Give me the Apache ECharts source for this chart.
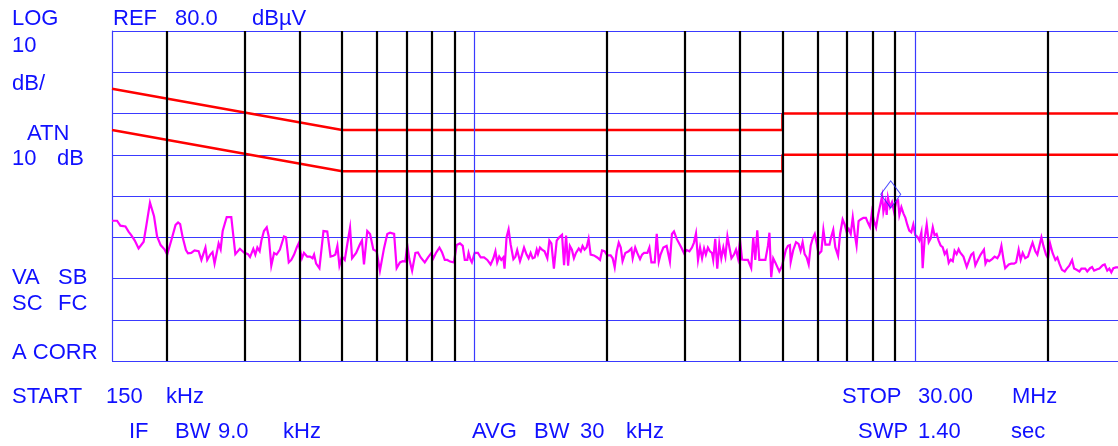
<!DOCTYPE html>
<html><head><meta charset="utf-8">
<script src="https://cdn.jsdelivr.net/npm/echarts@6/dist/echarts.min.js"></script>
<style>html,body{margin:0;padding:0;background:#fff;overflow:hidden}#c{width:1118px;height:446px}</style>
</head><body><div id="c"></div><script>
// ---- instrument settings ----
const START_MHZ = 0.15;
const STOP_MHZ = 30;
const SWEEP_LAST = 400; // sweep points 0..400, log spaced
const REF_LEVEL = 80;
const DB_PER_DIV = 10;

// ---- frequency graticule (MHz) ----
const decadeLinesMHz = [1, 10];
const markerLinesMHz = [0.2, 0.3, 0.4, 0.5, 0.6, 0.7, 0.8, 0.9, 2, 3, 4, 5, 6, 7, 8, 9, 20];

// ---- limit lines (dBµV) ----
const limitFreqMHz = [0.15, 0.5, 5, 5, 30];
const limitQuasiPeak = [66, 56, 56, 60, 60];
const limitAverage = [56, 46, 46, 50, 50];

// ---- marker ----
const markerFreqMHz = 8.81;
const markerLevel = 40.4;

// ---- measured trace: sweep point index and level (dBµV) ----
const sweepIdx = [0,2.0,3.3,5.3,6.6,7.6,8.3,9.0,10.5,12.5,13.6,15.0,16.6,17.8,19.2,20.8,21.8,23.4,25.1,26.1,26.9,27.9,29.2,30.0,31.3,32.6,34.2,35.3,36.9,37.6,38.8,39.7,40.5,42.1,42.9,43.7,45.3,47.1,48.7,50.5,52.1,53.7,54.5,55.8,56.6,57.4,58.3,59.0,60.0,61.1,61.9,62.9,64.0,65.0,66.3,
66.6,67.9,68.7,69.8,70.8,71.9,73.0,73.7,74.5,75.0,75.8,77.1,78.2,79.2,79.8,80.6,81.9,83.5,85.0,85.6,86.3,87.4,88.2,89.0,89.8,90.8,91.9,92.9,94.0,94.8,96.4,97.9,98.7,99.5,100.8,101.9,103.2,104.5,105.8,107.4,108.7,109.8,111.4,112.4,113.7,114.8,115.8,116.6,117.4,118.5,119.8,120.8,121.9,123.5,124.8,126.1,126.9,127.9,129.3,130.3,131.4,132.4,133.5,
134.0,135.0,136.1,137.4,138.5,139.3,140.3,140.8,141.6,142.1,143.2,144.5,145.6,146.9,148.2,149.5,150.6,151.4,152.1,152.9,153.7,154.5,155.0,155.8,156.6,157.4,158.5,159.3,160.0,161.1,161.9,162.7,163.7,164.5,165.3,166.1,166.9,167.7,168.2,169.0,169.8,170.8,171.9,172.7,173.5,174.5,175.6,176.6,177.7,178.5,179.3,180.1,180.8,181.6,182.4,183.2,184.3,185.1,185.8,186.6,187.4,188.2,189.0,190.3,191.6,192.7,193.5,194.5,195.6,196.9,197.7,198.5,199.3,200.1,
200.9,201.6,202.7,204.0,205.1,205.6,206.6,207.4,208.5,209.3,210.1,211.4,212.2,213.0,214.3,215.1,215.9,216.6,217.7,219.0,220.3,221.1,221.9,223.0,224.8,225.9,226.9,228.0,229.0,229.8,230.6,231.4,232.2,233.0,233.8,234.5,235.3,236.1,236.9,237.4,238.2,239.0,239.8,240.6,241.4,242.2,243.0,243.8,244.6,245.6,246.4,247.2,248.0,248.8,249.8,251.1,252.4,253.2,254.0,254.8,255.6,256.7,258.0,259.0,259.6,260.3,261.1,261.9,263.5,264.6,265.3,266.1,266.9,267.7,
268.0,269.0,270.1,271.1,271.9,272.7,273.5,274.3,275.1,275.9,276.7,277.5,278.3,279.0,280.1,280.9,281.7,282.5,283.3,284.0,284.8,285.6,286.7,287.5,288.5,289.3,290.1,290.9,291.7,292.5,293.3,294.0,294.8,295.6,296.7,297.7,298.5,299.3,300.1,300.9,301.7,302.5,303.3,304.1,304.6,305.4,305.9,306.4,307.2,308.0,308.8,309.6,310.4,310.9,311.7,312.5,313.3,314.0,314.8,315.6,316.4,317.2,318.0,318.8,319.6,320.1,320.9,321.7,322.5,323.3,324.1,324.8,325.6,326.4,327.2,328.0,328.8,329.6,330.4,331.2,332.0,332.7,333.5,334.3,334.9,
335.4,336.2,337.5,338.5,339.3,340.1,340.9,341.9,343.0,344.3,344.9,345.6,346.4,347.5,348.5,349.6,350.4,351.2,352.0,352.7,354.1,355.1,356.2,357.0,358.0,358.8,359.6,360.6,361.7,362.8,363.5,364.6,365.4,366.2,367.0,367.8,368.8,369.6,370.4,371.4,372.5,373.3,374.1,375.1,376.2,377.0,378.0,379.1,379.9,380.9,382.0,382.8,383.5,384.3,385.1,386.2,387.0,387.8,388.8,389.9,391.2,392.0,393.0,393.8,394.6,395.4,396.4,397.2,400];
const traceDbuV = [34.0,34.0,32.8,32.6,31.3,30.5,30.3,29.2,27.3,28.9,33.0,38.4,35.1,30.2,28.1,27.0,25.8,29.2,33.0,33.6,33.2,30.0,26.9,26.1,26.2,26.8,26.6,24.5,27.5,24.5,25.8,26.4,23.6,28.5,27.1,31.5,34.9,34.9,25.9,27.2,26.3,25.9,25.2,27.2,25.8,27.5,26.6,29.2,31.5,32.4,30.2,23.1,26.2,25.8,27.0,
27.0,30.2,30.0,23.9,24.5,25.8,27.6,28.5,26.2,24.9,26.2,25.3,25.3,24.9,25.8,23.6,22.5,31.5,31.4,31.1,25.3,25.5,25.8,27.9,23.1,25.3,24.5,28.3,32.3,24.9,26.2,28.3,29.2,23.4,31.5,30.8,27.0,26.6,21.9,27.3,30.8,31.1,30.8,22.5,23.9,24.2,24.1,28.1,24.7,21.9,26.2,26.3,25.1,23.9,25.1,26.2,24.9,26.2,27.5,26.4,24.5,24.5,24.1,
23.9,23.9,28.1,28.5,27.9,24.5,24.5,26.2,24.5,23.9,26.2,26.2,25.1,25.1,24.5,23.4,24.9,26.6,23.9,25.3,24.5,25.1,22.4,30.0,31.9,28.3,24.7,25.3,26.9,24.2,25.8,27.5,25.8,24.9,26.2,24.9,25.1,27.0,25.9,27.5,27.0,26.6,24.9,29.2,28.5,22.4,29.2,30.0,30.6,23.2,30.4,23.1,27.9,27.0,24.9,26.2,27.3,26.6,27.9,27.0,27.5,29.6,25.8,25.6,25.1,24.5,26.8,26.6,25.6,25.6,24.9,22.7,26.6,28.7,
27.5,24.2,26.2,26.6,27.3,24.9,27.5,26.2,24.7,25.8,26.2,26.2,27.5,23.9,23.9,30.8,24.1,25.8,27.5,27.9,24.1,30.8,31.4,29.6,27.5,26.1,26.9,26.6,27.5,28.7,30.9,24.5,27.5,24.9,27.3,25.8,27.5,26.6,26.2,24.5,29.6,22.4,28.3,24.9,27.5,25.3,30.2,27.5,24.9,25.8,27.0,24.9,29.2,24.6,24.5,24.5,22.5,30.0,24.5,31.7,24.5,24.5,24.5,27.9,31.1,20.3,24.9,23.9,21.7,23.1,24.9,27.0,27.9,28.1,
24.0,26.9,28.8,28.4,26.7,28.8,25.9,25.1,23.4,28.0,29.7,30.8,28.4,25.9,26.6,31.8,28.2,28.2,28.2,30.1,31.8,27.6,25.5,30.8,34.3,33.1,31.2,32.0,30.8,34.8,30.7,28.0,33.9,34.3,34.7,34.7,33.5,32.5,36.2,33.9,32.4,35.4,37.7,40.0,36.2,38.5,35.4,39.6,37.3,38.5,36.2,38.5,38.9,35.4,37.3,35.8,34.7,33.1,31.6,31.2,33.1,30.5,30.1,29.2,31.2,22.5,29.7,33.1,28.8,29.7,32.4,30.5,30.8,29.2,28.0,27.6,25.9,26.7,23.8,24.6,24.2,26.7,25.9,27.1,26.3,
26.6,25.3,22.8,24.5,25.8,26.2,23.2,24.5,25.8,27.0,23.6,24.5,24.2,24.7,25.3,24.9,25.8,27.9,24.7,22.5,23.4,23.6,23.6,23.9,27.0,24.5,26.2,24.9,25.3,27.5,28.7,26.6,25.8,27.9,30.0,27.9,25.8,24.9,28.5,26.2,24.5,25.1,23.6,22.1,21.7,22.4,23.1,24.5,22.4,22.1,21.7,22.4,22.8,22.4,21.7,22.5,22.8,21.9,22.2,22.4,23.2,23.4,21.9,22.4,21.5,22.5,22.7,22.7,22.7];

// ---- screen annotations ----
const annotations = [
  ['LOG', 12, 19], ['REF', 113, 19], ['80.0', 175, 19], ['dB\u00b5V', 252, 19],
  ['10', 12, 46], ['dB/', 12, 84],
  ['ATN', 27, 134], ['10', 12, 159], ['dB', 57, 159],
  ['VA', 12, 278], ['SB', 58, 278], ['SC', 12, 304], ['FC', 58, 304], ['A CORR', 12, 353],
  ['START', 12, 397], ['150', 106, 397], ['kHz', 166, 397],
  ['IF', 129, 432], ['BW', 175, 432], ['9.0', 218, 432], ['kHz', 283, 432],
  ['AVG', 472, 432], ['BW', 534, 432], ['30', 580, 432], ['kHz', 626, 432],
  ['STOP', 842, 397], ['30.00', 918, 397], ['MHz', 1012, 397],
  ['SWP', 858, 432], ['1.40', 918, 432], ['sec', 1011, 432]
];

const BLUE = '#3a3aff';
const TEXT_BLUE = '#1010ff';
const freqOf = i => START_MHZ * Math.pow(STOP_MHZ / START_MHZ, i / SWEEP_LAST);
const zip = (xs, ys) => xs.map((x, k) => [x, ys[k]]);

const chart = echarts.init(document.getElementById('c'), null, {renderer: 'canvas'});
chart.setOption({
  animation: false,
  backgroundColor: '#fff',
  grid: {left: 112, top: 31, width: 1013, height: 330, containLabel: false, outerBoundsMode: 'none'},
  xAxis: {
    type: 'log', logBase: 10, min: START_MHZ, max: STOP_MHZ,
    axisLine: {show: false}, axisTick: {show: false}, axisLabel: {show: false},
    splitLine: {show: false}, minorSplitLine: {show: false}
  },
  yAxis: {
    type: 'value', min: REF_LEVEL - 8 * DB_PER_DIV, max: REF_LEVEL, interval: DB_PER_DIV,
    axisLine: {show: true, lineStyle: {color: BLUE, width: 1.2}},
    axisTick: {show: false}, axisLabel: {show: false},
    splitLine: {show: true, lineStyle: {color: BLUE, width: 1.2}}
  },
  graphic: annotations.map(([t, x, y]) => ({
    type: 'text', silent: true,
    style: {text: t, x: x, y: y, fill: TEXT_BLUE, font: '22px "Liberation Sans", Arial, sans-serif',
      textAlign: 'left', textVerticalAlign: 'middle', align: 'left', verticalAlign: 'middle'}
  })),
  series: [
    {
      type: 'line', data: [], silent: true, z: 1,
      markLine: {
        silent: true, symbol: ['none', 'none'], animation: false,
        label: {show: false}, emphasis: {disabled: true},
        data: decadeLinesMHz.map(f => ({xAxis: f, lineStyle: {color: BLUE, width: 1.2, type: 'solid'}}))
          .concat(markerLinesMHz.map(f => ({xAxis: f, lineStyle: {color: '#000', width: 2.2, type: 'solid'}})))
      }
    },
    {
      type: 'line', data: zip(limitFreqMHz, limitQuasiPeak), symbol: 'none', silent: true, z: 3,
      lineStyle: {color: '#ff0000', width: 2.5}
    },
    {
      type: 'line', data: zip(limitFreqMHz, limitAverage), symbol: 'none', silent: true, z: 3,
      lineStyle: {color: '#ff0000', width: 2.5}
    },
    {
      type: 'line', data: sweepIdx.map((i, k) => [freqOf(i), traceDbuV[k]]), symbol: 'none', silent: true, z: 4,
      lineStyle: {color: '#ff00ff', width: 2.2, join: 'miter'}
    },
    {
      type: 'scatter', data: [[markerFreqMHz, markerLevel]], symbol: 'diamond', symbolSize: [20, 27], silent: true, z: 5,
      itemStyle: {color: 'rgba(0,0,0,0)', borderColor: '#2020ff', borderWidth: 1}
    }
  ]
});
</script></body></html>
